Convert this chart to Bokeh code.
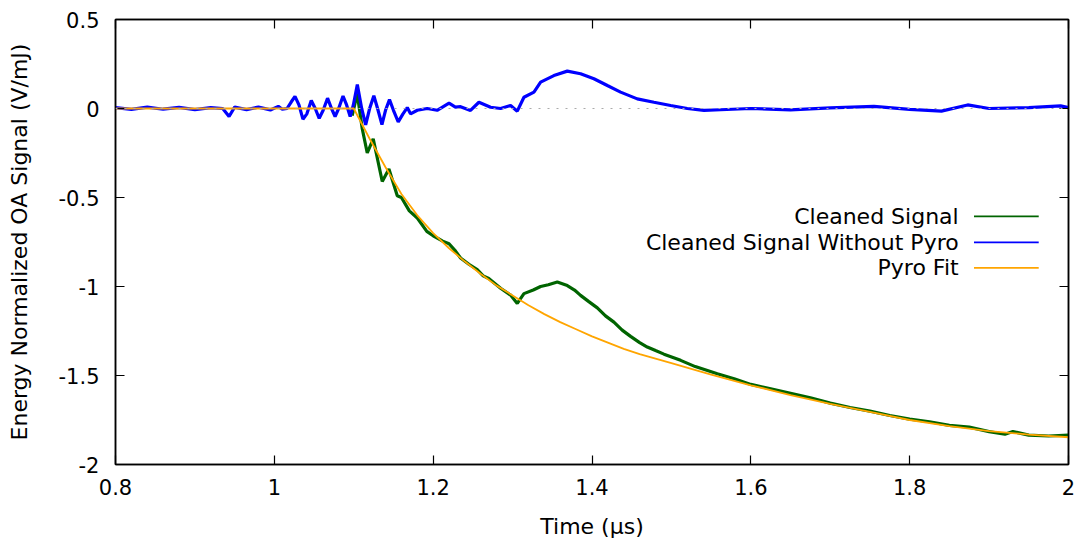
from bokeh.plotting import figure
from bokeh.models import FixedTicker, LinearAxis, Span, Label, Arrow, Range1d
from bokeh.embed import file_html
from bokeh.resources import INLINE

# ---------------- data ----------------
t_blue = [0.800, 0.820, 0.840, 0.860, 0.880, 0.900, 0.920, 0.935, 0.943, 0.950,
          0.965, 0.980, 0.995, 1.005, 1.010, 1.016, 1.021, 1.026, 1.031, 1.036,
          1.041, 1.0465, 1.0515, 1.0565, 1.0615, 1.067, 1.072, 1.0765, 1.081, 1.0865,
          1.091, 1.0955, 1.0995, 1.1045, 1.110, 1.115, 1.120, 1.1253, 1.130, 1.1355,
          1.140, 1.145, 1.150, 1.156, 1.162, 1.1674, 1.1715, 1.180, 1.1925, 1.205,
          1.220, 1.228, 1.2345, 1.247, 1.2576, 1.2723, 1.2849, 1.2975, 1.3059, 1.3143,
          1.3269, 1.3353, 1.352, 1.3689, 1.3856, 1.4024, 1.4193, 1.436, 1.457, 1.478,
          1.499, 1.520, 1.541, 1.562, 1.600, 1.650, 1.700, 1.755, 1.800, 1.840,
          1.873, 1.900, 1.950, 1.990, 2.000]
v_blue = [0.005, -0.005, 0.008, -0.004, 0.006, -0.006, 0.005, 0.0, -0.045, 0.008,
          -0.006, 0.008, -0.008, 0.012, -0.004, 0.0, 0.035, 0.068, 0.02, -0.06,
          -0.03, 0.045, 0.0, -0.055, -0.01, 0.058, 0.0, -0.045, 0.0, 0.07,
          0.02, -0.045, 0.02, 0.135, 0.0, -0.092, 0.0, 0.072, 0.0, -0.09,
          -0.01, 0.05, -0.01, -0.075, -0.03, 0.005, -0.03, -0.01, 0.0, -0.01,
          0.03, 0.008, 0.01, -0.011, 0.035, 0.007, 0.0, 0.017, -0.015, 0.063,
          0.092, 0.148, 0.185, 0.21, 0.195, 0.167, 0.129, 0.092, 0.054, 0.035,
          0.017, 0.0, -0.011, -0.007, 0.0, -0.008, 0.003, 0.012, -0.005, -0.015,
          0.02, 0.0, 0.005, 0.015, 0.005]

t_green = [1.098, 1.1044, 1.1107, 1.117, 1.1245, 1.1359, 1.1443, 1.1548, 1.160, 1.170,
           1.180, 1.192, 1.200, 1.212, 1.220, 1.228, 1.2345, 1.245, 1.2555, 1.263,
           1.270, 1.2849, 1.298, 1.3059, 1.3143, 1.326, 1.3353, 1.345, 1.3563, 1.3689,
           1.378, 1.3856, 1.396, 1.4067, 1.417, 1.4276, 1.438, 1.4486, 1.460, 1.4696,
           1.480, 1.4906, 1.5116, 1.530, 1.5578, 1.580, 1.600, 1.625, 1.650, 1.675,
           1.700, 1.725, 1.750, 1.775, 1.800, 1.825, 1.850, 1.875, 1.900, 1.920,
           1.930, 1.950, 1.975, 2.000]
v_green = [-0.04, 0.083, -0.114, -0.25, -0.17, -0.41, -0.34, -0.49, -0.50, -0.575,
           -0.615, -0.69, -0.715, -0.745, -0.76, -0.80, -0.84, -0.875, -0.905, -0.94,
           -0.955, -1.01, -1.05, -1.095, -1.04, -1.02, -1.0, -0.99, -0.975, -0.995,
           -1.02, -1.05, -1.085, -1.12, -1.165, -1.20, -1.245, -1.28, -1.315, -1.34,
           -1.36, -1.38, -1.415, -1.45, -1.49, -1.52, -1.55, -1.575, -1.60, -1.625,
           -1.655, -1.68, -1.70, -1.725, -1.745, -1.76, -1.78, -1.79, -1.815, -1.83,
           -1.815, -1.835, -1.84, -1.835]

t_fit = [0.80, 1.10, 1.12, 1.14, 1.16, 1.18, 1.20, 1.22, 1.24, 1.26,
         1.28, 1.30, 1.32, 1.34, 1.36, 1.38, 1.40, 1.42, 1.44, 1.46,
         1.48, 1.50, 1.55, 1.60, 1.65, 1.70, 1.75, 1.80, 1.85, 1.90,
         1.95, 2.00]
v_fit = [0.0, 0.0, -0.17, -0.33, -0.48, -0.60, -0.70, -0.785, -0.86, -0.93,
         -0.995, -1.05, -1.105, -1.155, -1.20, -1.24, -1.28, -1.315, -1.35, -1.38,
         -1.405, -1.43, -1.495, -1.555, -1.61, -1.66, -1.705, -1.75, -1.785, -1.812,
         -1.832, -1.847]

x_ticks = [0.8, 1.0, 1.2, 1.4, 1.6, 1.8, 2.0]
x_tick_labels = ["0.8", "1", "1.2", "1.4", "1.6", "1.8", "2"]
y_ticks = [0.5, 0.0, -0.5, -1.0, -1.5, -2.0]
y_tick_labels = ["0.5", "0", "-0.5", "-1", "-1.5", "-2"]

series_names = ["Cleaned Signal", "Cleaned Signal Without Pyro", "Pyro Fit"]
series_colors = ["#006400", "#0000ff", "#ffa500"]

FONT = "DejaVu Sans"
FS_TICK = "21px"
FS = "22px"

p = figure(width=1076, height=543, output_backend="svg", toolbar_location=None,
           x_range=Range1d(0.8, 2.0), y_range=Range1d(-2.0, 0.5),
           min_border_left=115, min_border_right=8, min_border_top=19,
           min_border_bottom=79)
p.background_fill_color = "white"
p.border_fill_color = "white"
p.grid.visible = False
p.outline_line_color = "black"
p.outline_line_width = 1.5

# zero axis (dotted)
p.add_layout(Span(location=0, dimension="width", line_color="#aaaaaa",
                  line_dash="2 7", line_width=1))

p.line(t_green, v_green, line_color=series_colors[0], line_width=3.2)
p.line(t_blue, v_blue, line_color=series_colors[1], line_width=3.2)
p.line(t_fit, v_fit, line_color=series_colors[2], line_width=1.8)

def style_axis(ax):
    ax.axis_line_color = "black"
    ax.axis_line_width = 1.5
    ax.major_tick_in = 9
    ax.major_tick_out = 0
    ax.major_tick_line_color = "black"
    ax.major_tick_line_width = 1.2
    ax.minor_tick_line_color = None
    ax.major_label_text_font = FONT
    ax.major_label_text_font_size = FS_TICK
    ax.major_label_text_color = "black"
    ax.axis_label_text_font = FONT
    ax.axis_label_text_font_size = FS
    ax.axis_label_text_font_style = "normal"
    ax.axis_label_text_color = "black"

xax = p.xaxis[0]
xax.ticker = FixedTicker(ticks=x_ticks)
xax.major_label_overrides = {t: l for t, l in zip(x_ticks, x_tick_labels)}
xax.axis_label = "Time (µs)"
style_axis(xax)
xax.major_label_standoff = 14
xax.axis_label_standoff = 16

yax = p.yaxis[0]
yax.ticker = FixedTicker(ticks=y_ticks)
yax.major_label_overrides = {t: l for t, l in zip(y_ticks, y_tick_labels)}
yax.axis_label = "Energy Normalized OA Signal (V/mJ)"
style_axis(yax)
yax.major_label_standoff = 16
yax.axis_label_standoff = 24

# mirror ticks (no labels) on top and right
top = LinearAxis(ticker=FixedTicker(ticks=x_ticks), major_label_standoff=0,
                 major_label_overrides={t: "" for t in x_ticks})
style_axis(top)
p.add_layout(top, "above")
right = LinearAxis(ticker=FixedTicker(ticks=y_ticks), major_label_standoff=0,
                   major_label_overrides={t: "" for t in y_ticks})
style_axis(right)
p.add_layout(right, "right")

# key (gnuplot style: text right-aligned, sample line to the right)
key_text_x = 1.8617
key_line_x0 = 1.881
key_line_x1 = 1.9625
key_rows_y = [-0.606, -0.752, -0.895]
for name, col, ky in zip(series_names, series_colors, key_rows_y):
    p.add_layout(Label(x=key_text_x, y=ky, text=name, text_align="right",
                       text_baseline="middle", text_font=FONT, text_font_size=FS,
                       text_color="black"))
    p.add_layout(Arrow(end=None, x_start=key_line_x0, y_start=ky, x_end=key_line_x1,
                       y_end=ky, line_color=col, line_width=1.8))

open("out.html", "w").write(file_html(p, INLINE))
